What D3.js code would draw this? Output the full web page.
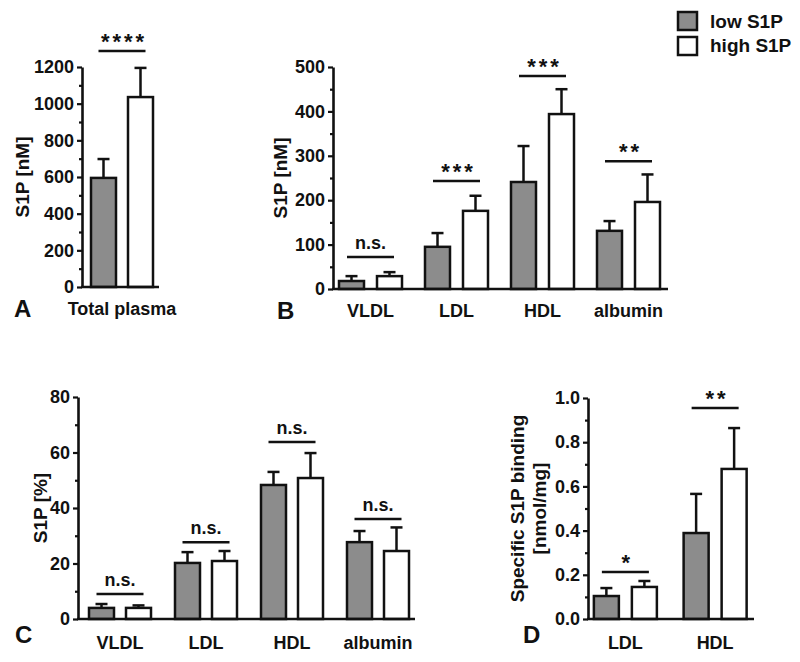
<!DOCTYPE html>
<html><head><meta charset="utf-8">
<script src="https://cdn.jsdelivr.net/npm/d3@7"></script>
<style>
html,body{margin:0;padding:0;background:#fff;}
text{font-family:"Liberation Sans",Arial,sans-serif;font-weight:bold;fill:#111;}
</style></head>
<body><svg id="c" width="800" height="662"></svg>
<script>
// ---------- DATA ----------
const seriesNames = ["low S1P", "high S1P"];

const catsA = ["Total plasma"];
const lowA = [595], lowSdA = [103];
const highA = [1036], highSdA = [159];
const sigA = ["****"], sigLevelA = [1287];
const ticksA = [0, 200, 400, 600, 800, 1000, 1200];

const catsB = ["VLDL", "LDL", "HDL", "albumin"];
const lowB = [18, 95, 241, 131], lowSdB = [11, 31, 81, 22];
const highB = [29, 176, 394, 196], highSdB = [9, 34, 56, 62];
const sigB = ["n.s.", "***", "***", "**"], sigLevelB = [72, 243, 480, 288];
const ticksB = [0, 100, 200, 300, 400, 500];

const catsC = ["VLDL", "LDL", "HDL", "albumin"];
const lowC = [4.0, 20.2, 48.3, 27.7], lowSdC = [1.4, 3.9, 4.7, 4.0];
const highC = [4.0, 20.9, 50.8, 24.5], highSdC = [0.9, 3.6, 9.0, 8.5];
const sigC = ["n.s.", "n.s.", "n.s.", "n.s."], sigLevelC = [9.0, 27.7, 63.8, 36.0];
const ticksC = [0, 20, 40, 60, 80];

const catsD = ["LDL", "HDL"];
const lowD = [0.104, 0.389], lowSdD = [0.036, 0.177];
const highD = [0.145, 0.679], highSdD = [0.027, 0.185];
const sigD = ["*", "**"], sigLevelD = [0.213, 0.955];
const ticksD = [0, 0.2, 0.4, 0.6, 0.8, 1.0];

// ---------- DRAWING ----------
const svg = d3.select("#c");
const fills = {"low S1P": "#8c8c8c", "high S1P": "#ffffff"};
const color = d3.scaleOrdinal().domain(seriesNames).range(seriesNames.map(s => fills[s]));

function panel(cfg) {
  const g = svg.append("g");
  const y = d3.scaleLinear().domain([cfg.ticks[0], cfg.ticks[cfg.ticks.length - 1]]).range([cfg.yBot, cfg.yTop]);
  const x = d3.scaleBand().domain(cfg.cats).range(cfg.band);
  const inner = d3.scalePoint().domain(seriesNames).range([-cfg.off, cfg.off]);
  const bw = 25;
  const rows = [];
  cfg.cats.forEach((c, i) => {
    rows.push({cat: c, s: seriesNames[0], v: cfg.low[i], sd: cfg.lowSd[i]});
    rows.push({cat: c, s: seriesNames[1], v: cfg.high[i], sd: cfg.highSd[i]});
  });
  const cx = d => x(d.cat) + x.bandwidth() / 2 + inner(d.s);

  // error bars (upper only)
  g.selectAll(".err").data(rows).join("line")
    .attr("x1", cx).attr("x2", cx)
    .attr("y1", d => y(d.v)).attr("y2", d => y(d.v + d.sd))
    .attr("stroke", "#111").attr("stroke-width", 2.5);
  g.selectAll(".cap").data(rows).join("line")
    .attr("x1", d => cx(d) - 6).attr("x2", d => cx(d) + 6)
    .attr("y1", d => y(d.v + d.sd)).attr("y2", d => y(d.v + d.sd))
    .attr("stroke", "#111").attr("stroke-width", 2.5);
  // bars
  g.selectAll(".bar").data(rows).join("rect")
    .attr("x", d => cx(d) - bw / 2).attr("width", bw)
    .attr("y", d => y(d.v)).attr("height", d => y(0) - y(d.v))
    .attr("fill", d => color(d.s)).attr("stroke", "#111").attr("stroke-width", 2.5);

  // y axis
  const major = cfg.ticks;
  const minor = [];
  for (let i = 0; i < major.length - 1; i++) minor.push((major[i] + major[i + 1]) / 2);
  const axMinor = d3.axisLeft(y).tickValues(minor).tickSize(3).tickFormat("").tickSizeOuter(0);
  const axMajor = d3.axisLeft(y).tickValues(major).tickSize(5).tickSizeOuter(0).tickPadding(3).tickFormat(cfg.fmt);
  const ga = g.append("g").attr("transform", `translate(${cfg.x0},0)`);
  ga.append("g").call(axMinor).call(s => s.select(".domain").remove());
  ga.append("g").call(axMajor);
  ga.selectAll("line").attr("stroke", "#111").attr("stroke-width", 2.2);
  ga.selectAll(".domain").attr("stroke", "#111").attr("stroke-width", 2.6);
  ga.selectAll("text").attr("font-size", 18).attr("font-family", "Liberation Sans, Arial, sans-serif")
    .attr("font-weight", "bold").attr("fill", "#111");
  // x axis line
  g.append("line").attr("x1", cfg.x0 - 1).attr("x2", cfg.x1).attr("y1", y(0)).attr("y2", y(0))
    .attr("stroke", "#111").attr("stroke-width", 2.6);
  // category labels
  g.selectAll(".cl").data(cfg.cats).join("text")
    .attr("x", c => x(c) + x.bandwidth() / 2).attr("y", cfg.labY)
    .attr("text-anchor", "middle").attr("font-size", 18).text(c => c);
  // significance
  cfg.cats.forEach((c, i) => {
    const mx = x(c) + x.bandwidth() / 2;
    const ly = y(cfg.sigLevel[i]);
    g.append("line").attr("x1", mx - 23.5).attr("x2", mx + 23.5).attr("y1", ly).attr("y2", ly)
      .attr("stroke", "#111").attr("stroke-width", 2.5);
    const isStar = cfg.sig[i].indexOf("*") >= 0;
    g.append("text").attr("x", mx + (isStar ? 2 : 0)).attr("y", isStar ? ly - 2 : ly - 8)
      .attr("text-anchor", "middle")
      .attr("font-size", isStar ? 22 : 18)
      .attr("letter-spacing", isStar ? 3 : 0)
      .text(cfg.sig[i]);
  });
  // y label
  const yl = g.append("text").attr("text-anchor", "middle").attr("font-size", 19)
    .attr("transform", `translate(${cfg.ylx},${(cfg.yTop + cfg.yBot) / 2}) rotate(-90)`);
  cfg.ylab.forEach((t, i) => yl.append("tspan").attr("x", 0).attr("dy", i === 0 ? 0 : 22).text(t));
  // panel letter
  g.append("text").attr("x", cfg.letX).attr("y", cfg.letY).attr("font-size", 24).text(cfg.letter);
}

panel({cats: catsA, low: lowA, lowSd: lowSdA, high: highA, highSd: highSdA, sig: sigA, sigLevel: sigLevelA,
  ticks: ticksA, fmt: d3.format("d"), x0: 82, x1: 159, yTop: 67, yBot: 287, band: [79, 165], off: 18.5,
  labY: 315, ylx: 29, ylab: ["S1P [nM]"], letter: "A", letX: 14, letY: 317});
panel({cats: catsB, low: lowB, lowSd: lowSdB, high: highB, highSd: highSdB, sig: sigB, sigLevel: sigLevelB,
  ticks: ticksB, fmt: d3.format("d"), x0: 333, x1: 668, yTop: 67, yBot: 289, band: [327.5, 671.5], off: 19,
  labY: 317, ylx: 287, ylab: ["S1P [nM]"], letter: "B", letX: 277, letY: 319});
panel({cats: catsC, low: lowC, lowSd: lowSdC, high: highC, highSd: highSdC, sig: sigC, sigLevel: sigLevelC,
  ticks: ticksC, fmt: d3.format("d"), x0: 78, x1: 415, yTop: 397, yBot: 619, band: [77, 421], off: 18.5,
  labY: 649, ylx: 47, ylab: ["S1P [%]"], letter: "C", letX: 15, letY: 643});
panel({cats: catsD, low: lowD, lowSd: lowSdD, high: highD, highSd: highSdD, sig: sigD, sigLevel: sigLevelD,
  ticks: ticksD, fmt: d3.format(".1f"), x0: 588, x1: 754, yTop: 398, yBot: 619, band: [580.5, 760], off: 19,
  labY: 649, ylx: 524, ylab: ["Specific S1P binding", "[nmol/mg]"], letter: "D", letX: 523, letY: 643});

// legend
const lg = svg.append("g");
seriesNames.forEach((s, i) => {
  lg.append("rect").attr("x", 678).attr("y", 12 + i * 25).attr("width", 19).attr("height", 18)
    .attr("fill", color(s)).attr("stroke", "#111").attr("stroke-width", 2.5);
  lg.append("text").attr("x", 710).attr("y", 28 + i * 24).attr("font-size", 19).text(s);
});
</script></body></html>
